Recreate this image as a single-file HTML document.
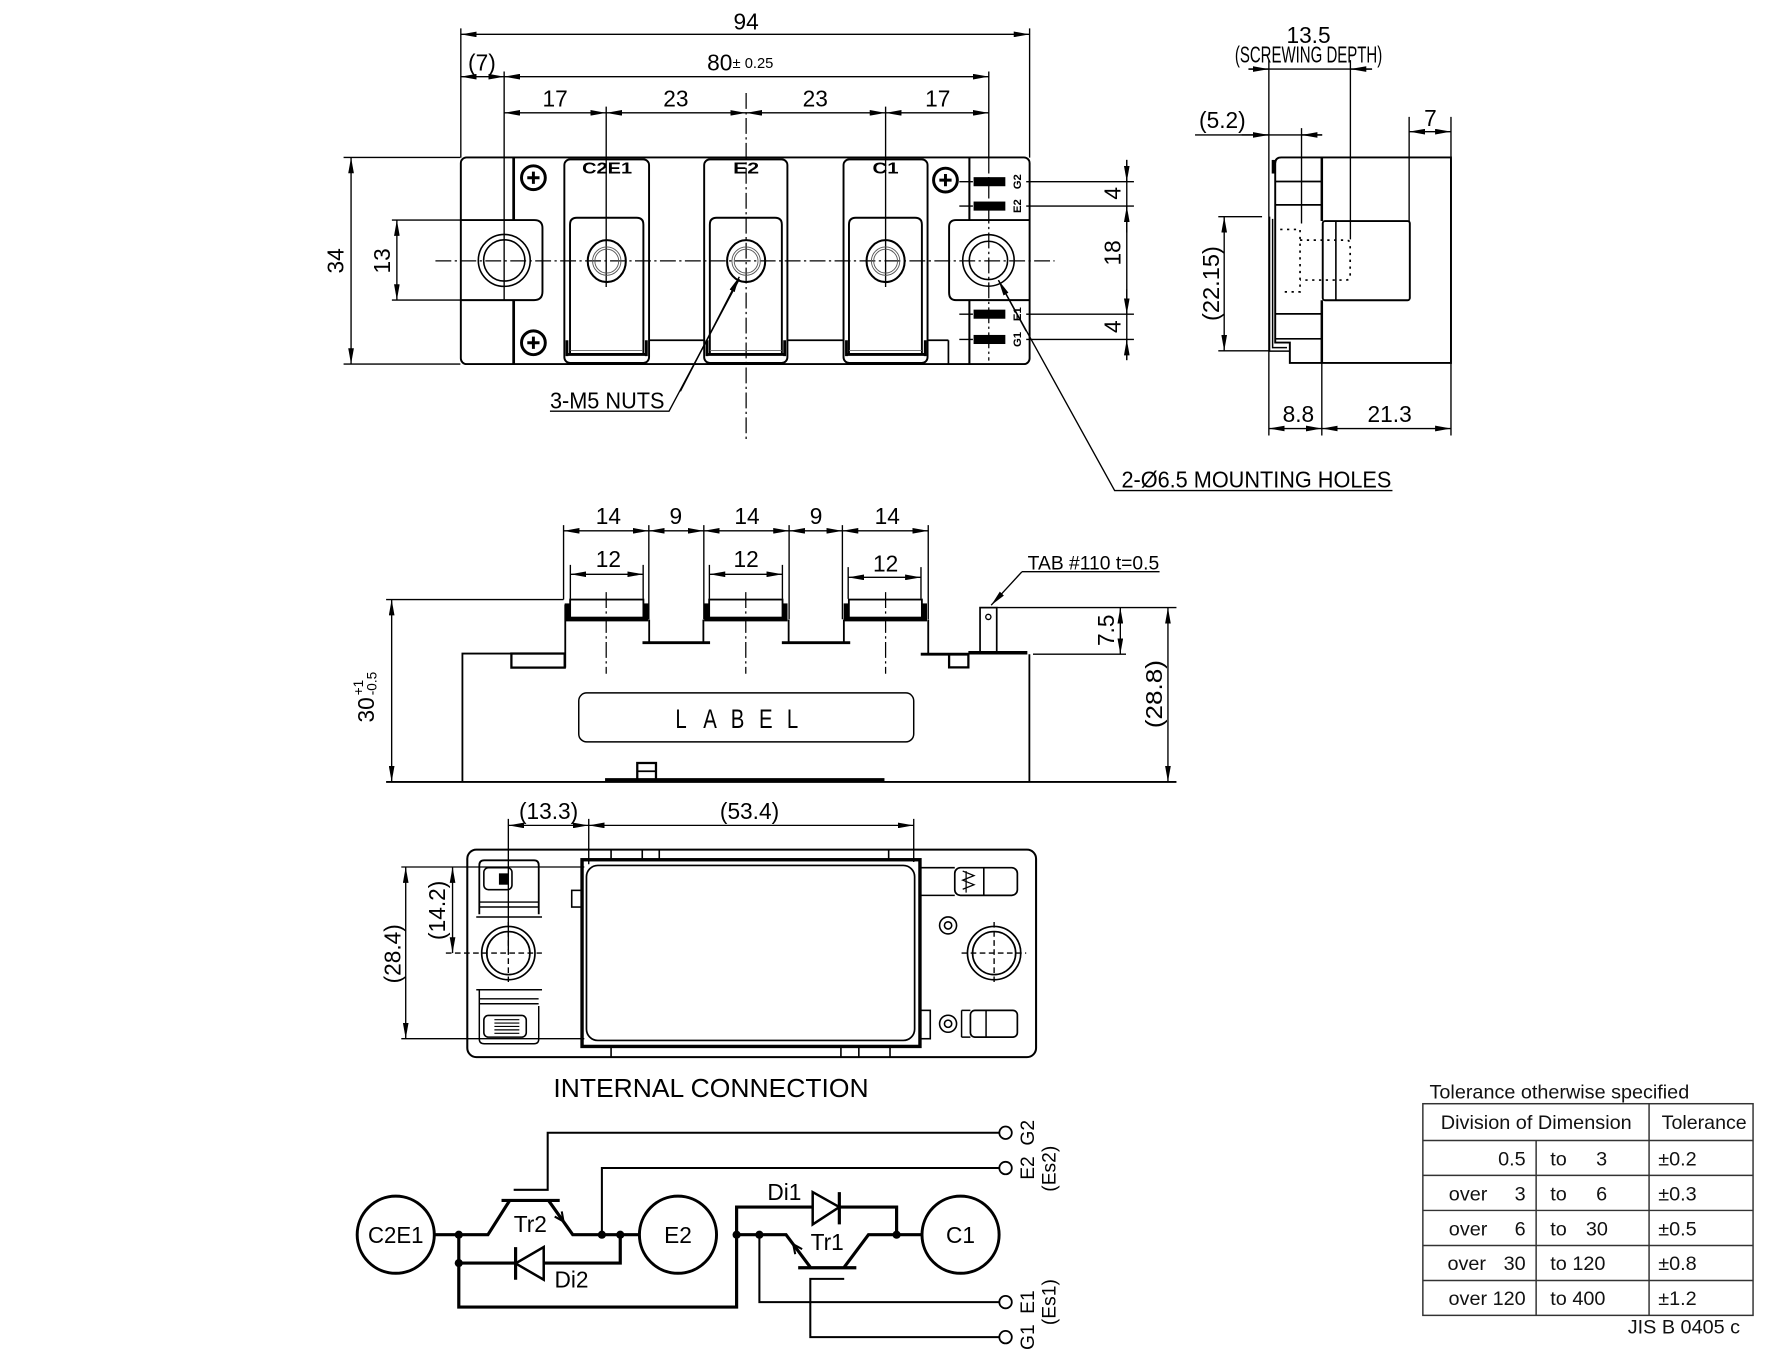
<!DOCTYPE html>
<html><head><meta charset="utf-8"><style>
html,body{margin:0;padding:0;background:#fff;}
svg{display:block;}
.d{font-family:"Liberation Sans",sans-serif;font-size:20px;text-anchor:middle;fill:#000;}
.t{font-family:"Liberation Sans",sans-serif;font-size:17.5px;fill:#111;}
.b{font-family:"Liberation Sans",sans-serif;font-size:14px;font-weight:bold;text-anchor:middle;fill:#000;}
.c{font-family:"Liberation Sans",sans-serif;font-size:20px;text-anchor:middle;fill:#000;}
</style></head><body>
<svg width="1778" height="1352" viewBox="0 0 1568 1192" preserveAspectRatio="none" xmlns="http://www.w3.org/2000/svg">
<defs>
<marker id="a" viewBox="0 0 14 5" refX="14" refY="2.5" markerWidth="14" markerHeight="5" markerUnits="userSpaceOnUse" orient="auto-start-reverse"><path d="M0,0L14,2.5L0,5z" fill="#000"/></marker>
</defs>
<rect width="1568" height="1192" fill="#fff"/>

<!-- ================= TOP VIEW ================= -->
<g fill="none" stroke="#000" stroke-width="1.2">
  <path d="M406.4,25V139 M908,25V139 M444.6,63V265 M534.6,94V253 M781,94V253 M872,63V139 M303,138.8H406 M303,321H406 M345.6,194H406 M345.6,264.6H406"/>
  <path d="M658,82V388 M384,230H930 M872,139V318" stroke-dasharray="14 3 2 3" stroke-width="1.1"/>
  <line x1="406.4" y1="30.3" x2="908" y2="30.3" marker-start="url(#a)" marker-end="url(#a)"/>
  <line x1="406.4" y1="67.6" x2="444.6" y2="67.6" marker-start="url(#a)" marker-end="url(#a)"/>
  <line x1="444.6" y1="67.6" x2="872" y2="67.6" marker-start="url(#a)" marker-end="url(#a)"/>
  <line x1="444.6" y1="99.5" x2="534.6" y2="99.5" marker-start="url(#a)" marker-end="url(#a)"/>
  <line x1="534.6" y1="99.5" x2="658" y2="99.5" marker-start="url(#a)" marker-end="url(#a)"/>
  <line x1="658" y1="99.5" x2="781" y2="99.5" marker-start="url(#a)" marker-end="url(#a)"/>
  <line x1="781" y1="99.5" x2="872" y2="99.5" marker-start="url(#a)" marker-end="url(#a)"/>
  <line x1="309.6" y1="138.8" x2="309.6" y2="321" marker-start="url(#a)" marker-end="url(#a)"/>
  <line x1="350" y1="194" x2="350" y2="264.6" marker-start="url(#a)" marker-end="url(#a)"/>
  <!-- 4/18/4 -->
  <path d="M846,160.2H858 M905,160.2H1000 M846,181.7H858 M905,181.7H1000 M846,277H858 M905,277H1000 M846,299.3H858 M905,299.3H1000"/>
  <line x1="993.7" y1="141" x2="993.7" y2="317.5"/>
  <line x1="993.7" y1="141" x2="993.7" y2="160.2" marker-end="url(#a)"/>
  <line x1="993.7" y1="205" x2="993.7" y2="181.7" marker-end="url(#a)"/>
  <line x1="993.7" y1="255" x2="993.7" y2="277" marker-end="url(#a)"/>
  <line x1="993.7" y1="317.5" x2="993.7" y2="299.3" marker-end="url(#a)"/>
  <!-- leaders -->
  <path d="M485,362.5H590L652,246"/>
  <line x1="600" y1="345" x2="652" y2="244" marker-end="url(#a)"/>
  <path d="M1228,432.5H983L880.5,247"/>
  <line x1="905" y1="292" x2="880.5" y2="247" marker-end="url(#a)"/>
</g>
<!-- body -->
<g fill="none" stroke="#000" stroke-width="1.7">
  <rect x="406.4" y="138.8" width="501.6" height="182.2" rx="5"/>
  <path d="M453,139V194 M453,264.6V321" stroke-width="2.4"/>
  <path d="M406.4,194H471Q478.4,194 478.4,201V257Q478.4,264.6 471,264.6H406.4"/>
  <circle cx="444.7" cy="229.6" r="22.9" stroke-width="1.4"/>
  <circle cx="444.7" cy="229.6" r="18.2" stroke-width="1.4"/>
  <rect x="497.7" y="140.5" width="74.7" height="179.5" rx="5"/>
  <rect x="621" y="140.5" width="73.4" height="179.5" rx="5"/>
  <rect x="743.9" y="140.5" width="74.1" height="179.5" rx="5"/>
  <path d="M502.7,312V198Q502.7,192 508.7,192H561.4Q567.4,192 567.4,198V312"/>
  <path d="M626,312V198Q626,192 632,192H683.5Q689.5,192 689.5,198V312"/>
  <path d="M748.7,312V198Q748.7,192 754.7,192H807Q813,192 813,198V312"/>
  <path d="M501,312.5H569 M624.5,312.5H691 M747,312.5H815" stroke-width="2.6"/>
  <path d="M503,309H567 M626,309H689.5 M748.7,309H813" stroke-width="0.8" stroke="#666"/>
  <path d="M500,300V314 M570,300V314 M623.5,300V314 M692,300V314 M746.5,300V314 M816,300V314" stroke-width="2.5"/>
  <path d="M572.4,300H621 M694.4,300H743.9 M818,300H836.4 M836.4,300V321" stroke-width="1.5"/>
  <path d="M854.9,139V194 M854.9,264.6V321" stroke-width="1.8"/>
  <path d="M908,194H843Q837,194 837,200V258Q837,264.6 843,264.6H908"/>
  <circle cx="871.7" cy="229.6" r="22.7" stroke-width="1.4"/>
  <circle cx="871.7" cy="229.6" r="16.9" stroke-width="1.4"/>
  <g stroke-width="1.8">
    <ellipse cx="535.1" cy="230.2" rx="16.8" ry="18.5"/>
    <ellipse cx="658" cy="230.2" rx="16.8" ry="18.5"/>
    <ellipse cx="781" cy="230.2" rx="16.8" ry="18.5"/>
  </g>
  <g stroke-width="0.8" stroke="#555">
    <circle cx="535.1" cy="230.2" r="12.5"/><circle cx="535.1" cy="230.2" r="10.5"/>
    <circle cx="658" cy="230.2" r="12.5"/><circle cx="658" cy="230.2" r="10.5"/>
    <circle cx="781" cy="230.2" r="12.5"/><circle cx="781" cy="230.2" r="10.5"/>
  </g>
  <g stroke-width="2.6">
    <circle cx="470.4" cy="156.7" r="10.5"/><path d="M465,156.7H475.8M470.4,151.3V162.1"/>
    <circle cx="470.4" cy="302.2" r="10.5"/><path d="M465,302.2H475.8M470.4,296.8V307.6"/>
    <circle cx="833.8" cy="158.8" r="10.5"/><path d="M828.4,158.8H839.2M833.8,153.4V164.2"/>
  </g>
</g>
<g fill="#000">
  <rect x="858.6" y="156.2" width="28" height="8"/>
  <rect x="858.6" y="177.7" width="28" height="8"/>
  <rect x="858.6" y="273" width="28" height="8"/>
  <rect x="858.6" y="295.3" width="28" height="8"/>
</g>
<text class="b" x="535.4" y="153" textLength="44" lengthAdjust="spacingAndGlyphs">C2E1</text>
<text class="b" x="658" y="153" textLength="23" lengthAdjust="spacingAndGlyphs">E2</text>
<text class="b" x="781" y="153" textLength="23" lengthAdjust="spacingAndGlyphs">C1</text>
<g font-family="Liberation Sans,sans-serif" font-size="10" font-weight="bold" text-anchor="middle">
  <text transform="translate(896.6,160.2) rotate(-90)" y="4">G2</text>
  <text transform="translate(896.6,181.7) rotate(-90)" y="4">E2</text>
  <text transform="translate(896.6,277) rotate(-90)" y="4">E1</text>
  <text transform="translate(896.6,299.3) rotate(-90)" y="4">G1</text>
</g>
<text class="d" x="658" y="26">94</text>
<text class="d" x="425" y="62">(7)</text>
<text class="d" x="634.7" y="62">80</text>
<text x="646" y="60" font-family="Liberation Sans,sans-serif" font-size="13">± 0.25</text>
<text class="d" x="489.6" y="94">17</text>
<text class="d" x="596" y="94">23</text>
<text class="d" x="719" y="94">23</text>
<text class="d" x="827" y="94">17</text>
<text class="d" transform="translate(296,230) rotate(-90)" y="7">34</text>
<text class="d" transform="translate(337,230) rotate(-90)" y="7">13</text>
<text class="d" transform="translate(981,170.5) rotate(-90)" y="7">4</text>
<text class="d" transform="translate(981,223) rotate(-90)" y="7">18</text>
<text class="d" transform="translate(981,288) rotate(-90)" y="7">4</text>
<text class="d" x="535.5" y="360" textLength="101" lengthAdjust="spacingAndGlyphs">3-M5 NUTS</text>
<text class="d" x="1108" y="430" textLength="238" lengthAdjust="spacingAndGlyphs">2-Ø6.5 MOUNTING HOLES</text>

<!-- ================= SIDE VIEW ================= -->
<g fill="none" stroke="#000" stroke-width="1.2">
  <path d="M1119,53V384 M1147.8,113V197 M1190.9,53V211 M1242.7,103V195 M1279.6,103V384 M1165.7,320V384 M1074.4,191H1113 M1074.4,309.3H1119"/>
  <path d="M1101,60.9H1210 M1053.9,119H1166"/>
  <line x1="1101" y1="60.9" x2="1119" y2="60.9" marker-end="url(#a)"/>
  <line x1="1210" y1="60.9" x2="1190.9" y2="60.9" marker-end="url(#a)"/>
  <line x1="1095" y1="119" x2="1119" y2="119" marker-end="url(#a)"/>
  <line x1="1166" y1="119" x2="1147.8" y2="119" marker-end="url(#a)"/>
  <line x1="1242.7" y1="116.1" x2="1279.6" y2="116.1" marker-start="url(#a)" marker-end="url(#a)"/>
  <line x1="1079.6" y1="191" x2="1079.6" y2="309.3" marker-start="url(#a)" marker-end="url(#a)"/>
  <line x1="1119" y1="377.8" x2="1165.7" y2="377.8" marker-start="url(#a)" marker-end="url(#a)"/>
  <line x1="1165.7" y1="377.8" x2="1279.6" y2="377.8" marker-start="url(#a)" marker-end="url(#a)"/>
</g>
<g fill="none" stroke="#000" stroke-width="1.7">
  <path d="M1130,138.8H1279.6V320H1137.5V302H1124.6V144Q1124.6,138.8 1130,138.8Z"/>
  <path d="M1119.6,191V309.6H1137.5 M1122.3,193V306.5H1135" stroke-width="1.3"/>
  <path d="M1125,160H1165.7 M1125,180.6H1165.7 M1125,276.7H1165.7 M1125,298.7H1165.7" stroke-width="1.5"/>
  <path d="M1165.7,138.8V194.9 M1165.7,264.7V320" stroke-width="2.2"/>
  <rect x="1166.5" y="194.9" width="76.8" height="69.8" rx="2"/>
  <path d="M1178.1,194.9V264.7" stroke-width="1.4"/>
  <path d="M1129,202.3H1146.5V257.3H1129 M1146.5,211.7H1187Q1190.7,211.7 1190.7,215.5V243Q1190.7,246.9 1187,246.9H1146.5" stroke-dasharray="2 4" stroke-width="1.5"/>
</g>
<rect x="1121.5" y="141" width="3" height="12" fill="#000"/>
<text class="d" x="1154" y="38">13.5</text>
<text class="d" x="1154" y="55" font-size="17" textLength="130" lengthAdjust="spacingAndGlyphs">(SCREWING DEPTH)</text>
<text class="d" x="1078" y="113">(5.2)</text>
<text class="d" x="1261.5" y="111">7</text>
<text class="d" transform="translate(1067.8,250) rotate(-90)" y="7" textLength="66" lengthAdjust="spacingAndGlyphs">(22.15)</text>
<text class="d" x="1145" y="372">8.8</text>
<text class="d" x="1225.5" y="372">21.3</text>

<!-- ================= FRONT VIEW ================= -->
<g fill="none" stroke="#000" stroke-width="1.2">
  <path d="M497,463V528.6 M572.2,463V546 M620.7,463V546 M695.9,463V546 M742.9,463V546 M818.6,463V546"/>
  <path d="M503,498V528 M567.2,498V528 M625.6,498V528 M690,498V528 M748,500V528 M812.2,500V528"/>
  <path d="M340.5,528.6H497 M879,535.7H1037.5 M911,576.8H993"/>
  <line x1="497" y1="468" x2="572.2" y2="468" marker-start="url(#a)" marker-end="url(#a)"/>
  <line x1="572.2" y1="468" x2="620.7" y2="468" marker-start="url(#a)" marker-end="url(#a)"/>
  <line x1="620.7" y1="468" x2="695.9" y2="468" marker-start="url(#a)" marker-end="url(#a)"/>
  <line x1="695.9" y1="468" x2="742.9" y2="468" marker-start="url(#a)" marker-end="url(#a)"/>
  <line x1="742.9" y1="468" x2="818.6" y2="468" marker-start="url(#a)" marker-end="url(#a)"/>
  <line x1="503" y1="506.3" x2="567.2" y2="506.3" marker-start="url(#a)" marker-end="url(#a)"/>
  <line x1="625.6" y1="506.3" x2="690" y2="506.3" marker-start="url(#a)" marker-end="url(#a)"/>
  <line x1="748" y1="509" x2="812.2" y2="509" marker-start="url(#a)" marker-end="url(#a)"/>
  <line x1="345.4" y1="528.6" x2="345.4" y2="689.4" marker-start="url(#a)" marker-end="url(#a)"/>
  <line x1="988" y1="535.7" x2="988" y2="576.8" marker-start="url(#a)" marker-end="url(#a)"/>
  <line x1="1030" y1="535.7" x2="1030" y2="689.4" marker-start="url(#a)" marker-end="url(#a)"/>
  <path d="M1022.6,504H901.3"/>
  <line x1="901.3" y1="504" x2="874.1" y2="533.6" marker-end="url(#a)"/>
  <path d="M534.6,522V594 M657.7,522V594 M781,522V594" stroke-dasharray="14 3 2 3" stroke-width="1.1"/>
</g>
<g fill="none" stroke="#000" stroke-width="1.6">
  <path d="M407.8,689.4V576.2H451 M498.5,588.6V533"/>
  <rect x="451" y="576.2" width="47" height="12.4" stroke-width="2"/>
  <rect x="502.8" y="528.6" width="64.6" height="15.9"/>
  <rect x="625.4" y="528.6" width="64.7" height="15.9"/>
  <rect x="748.6" y="528.6" width="64.4" height="15.9"/>
  <path d="M498,546.3H571.7 M621,546.3H694.5 M744,546.3H817.5" stroke-width="3"/>
  <path d="M572.5,546.3V566.6 M620.3,566.6V546.3 M695.5,546.3V566.6 M744.2,566.6V546.3 M818.6,546.3V576.8"/>
  <path d="M566.6,566.6H626.2 M689.5,566.6H749.8 M812,576.8H854.3" stroke-width="2.5"/>
  <rect x="837" y="576.8" width="17" height="11.6" stroke-width="2"/>
  <path d="M854,575.5H906" stroke-width="3"/>
  <rect x="864.3" y="535.7" width="14.7" height="39.1" stroke-width="1.5"/>
  <circle cx="871.6" cy="543.9" r="2.3" stroke-width="1.2"/>
  <path d="M907.8,576.8V689.4"/>
  <path d="M340.5,689.4H1037.5"/>
  <path d="M533.6,687.5H780" stroke-width="3"/>
  <rect x="562" y="672.7" width="16.5" height="15.5" stroke-width="2"/>
  <path d="M562,680H578.5" stroke-width="1.5"/>
  <rect x="510.4" y="610.9" width="295.4" height="43.2" rx="7" stroke-width="1.3"/>
</g>
<g fill="#000">
  <rect x="498" y="532" width="4.5" height="14"/><rect x="567.4" y="532" width="4.5" height="14"/>
  <rect x="621" y="532" width="4.5" height="14"/><rect x="690" y="532" width="4.5" height="14"/>
  <rect x="744" y="532" width="4.5" height="14"/><rect x="813" y="532" width="4.5" height="14"/>
</g>
<text class="d" x="536.5" y="462">14</text>
<text class="d" x="596" y="462">9</text>
<text class="d" x="658.8" y="462">14</text>
<text class="d" x="719.7" y="462">9</text>
<text class="d" x="782.5" y="462">14</text>
<text class="d" x="536.5" y="500">12</text>
<text class="d" x="658" y="500">12</text>
<text class="d" x="781" y="504">12</text>
<text x="906.3" y="502" font-family="Liberation Sans,sans-serif" font-size="17" textLength="116" lengthAdjust="spacingAndGlyphs">TAB #110 t=0.5</text>
<text class="d" transform="translate(975.6,555.7) rotate(-90)" y="7">7.5</text>
<text class="d" transform="translate(1017.7,612) rotate(-90)" y="7" textLength="60" lengthAdjust="spacingAndGlyphs">(28.8)</text>
<g transform="translate(322,610) rotate(-90)" font-family="Liberation Sans,sans-serif" fill="#000">
  <text x="-27" y="8" font-size="20">30</text>
  <text x="-3" y="-2" font-size="12">+1</text>
  <text x="-3" y="10" font-size="12">-0.5</text>
</g>
<g font-family="Liberation Sans,sans-serif" font-size="24" text-anchor="middle" fill="#000">
  <text x="600.6" y="642" transform="translate(600.6,0) scale(0.75,1) translate(-600.6,0)">L</text>
  <text x="626.2" y="642" transform="translate(626.2,0) scale(0.75,1) translate(-626.2,0)">A</text>
  <text x="650.4" y="642" transform="translate(650.4,0) scale(0.75,1) translate(-650.4,0)">B</text>
  <text x="675.4" y="642" transform="translate(675.4,0) scale(0.75,1) translate(-675.4,0)">E</text>
  <text x="698.9" y="642" transform="translate(698.9,0) scale(0.75,1) translate(-698.9,0)">L</text>
</g>

<!-- ================= BOTTOM VIEW ================= -->
<g fill="none" stroke="#000" stroke-width="1.2">
  <path d="M353.9,764.4H515.3 M353.9,915.8H515.3 M448.3,722V838 M519.2,722V762 M805.8,722V760"/>
  <path d="M393.2,840.3H477.9 M448.3,812.9V865.8 M848,840.3H905 M876.7,812.9V865.8" stroke-dasharray="5 3"/>
  <line x1="357.8" y1="764.4" x2="357.8" y2="915.8" marker-start="url(#a)" marker-end="url(#a)"/>
  <line x1="399.1" y1="764.4" x2="399.1" y2="840.3" marker-start="url(#a)" marker-end="url(#a)"/>
  <line x1="448.3" y1="727.7" x2="519.2" y2="727.7" marker-start="url(#a)" marker-end="url(#a)"/>
  <line x1="519.2" y1="727.7" x2="805.8" y2="727.7" marker-start="url(#a)" marker-end="url(#a)"/>
</g>
<g fill="none" stroke="#000" stroke-width="1.6">
  <rect x="412.1" y="749.1" width="501.6" height="182.9" rx="8" stroke-width="1.8"/>
  <rect x="513.3" y="758" width="298" height="164.6" stroke-width="3"/>
  <rect x="517.2" y="763" width="289.4" height="154.3" rx="10" stroke-width="1.5"/>
  <path d="M538.9,749V758 M566.4,749V758 M581.4,749V758 M783.7,749V758 M538.9,922.6V932 M741.6,922.6V932 M757.4,922.6V932 M784.9,922.6V932" stroke-width="1.4"/>
  <path d="M422.7,806V763Q422.7,758.5 427,758.5H471Q475.1,758.5 475.1,763V806"/>
  <path d="M422.7,795.3H475.1 M422.7,799.7H475.1 M420,808.5H478" stroke-width="1.3"/>
  <rect x="426.7" y="765" width="24.8" height="19.4" rx="4" stroke-width="1.4"/>
  <path d="M420,872.6H478 M422.7,880.6H475 M422.7,885H475 M422.7,872.6V916Q422.7,920.2 427,920.2H471Q475.1,920.2 475.1,916V887" stroke-width="1.3"/>
  <rect x="426.7" y="895.3" width="37.4" height="19.1" rx="4" stroke-width="1.4"/>
  <path d="M436,899H458 M436,902H458 M436,905H458 M436,908H458 M436,911H458" stroke-width="1"/>
  <circle cx="448.3" cy="840.3" r="23.5" stroke-width="1.5"/>
  <circle cx="448.3" cy="840.3" r="19" stroke-width="1.5"/>
  <rect x="504.2" y="785" width="9.1" height="14.7" stroke-width="1.4"/>
  <rect x="842" y="765" width="55.2" height="24.4" rx="5" stroke-width="1.5"/>
  <path d="M867.6,765V789.4 M811.3,765H842 M811.3,789.4H842" stroke-width="1.4"/>
  <path d="M849,768L859,772L849,776L859,780L849,784 M852,768V787" stroke-width="1.1"/>
  <circle cx="836.1" cy="815.9" r="7.5" stroke-width="1.4"/>
  <circle cx="836.1" cy="815.9" r="3.2" stroke-width="1.4"/>
  <circle cx="836.1" cy="902.6" r="7.5" stroke-width="1.4"/>
  <circle cx="836.1" cy="902.6" r="3.2" stroke-width="1.4"/>
  <circle cx="876.7" cy="840.3" r="23.5" stroke-width="1.5"/>
  <circle cx="876.7" cy="840.3" r="19" stroke-width="1.5"/>
  <rect x="855.8" y="890.8" width="41.4" height="23.6" rx="4" stroke-width="1.5"/>
  <path d="M869.6,890.8V914.4 M848,890.8H855.8 M848,914.4H855.8 M848,890.8V914.4" stroke-width="1.3"/>
  <rect x="811.3" y="890.8" width="9.1" height="25" stroke-width="1.4"/>
</g>
<rect x="440" y="770" width="8" height="10" fill="#000"/>
<text class="d" x="483.8" y="722">(13.3)</text>
<text class="d" x="661" y="722">(53.4)</text>
<text class="d" transform="translate(346,840.9) rotate(-90)" y="7">(28.4)</text>
<text class="d" transform="translate(385.4,802.6) rotate(-90)" y="7">(14.2)</text>

<!-- ================= INTERNAL CONNECTION ================= -->
<text x="627" y="967.2" font-family="Liberation Sans,sans-serif" font-size="23" text-anchor="middle" textLength="278" lengthAdjust="spacingAndGlyphs">INTERNAL CONNECTION</text>
<g fill="none" stroke="#000" stroke-linejoin="miter">
  <circle cx="349" cy="1088.6" r="34" stroke-width="2.6"/>
  <circle cx="597.9" cy="1088.6" r="34" stroke-width="2.6"/>
  <circle cx="847.1" cy="1088.6" r="34" stroke-width="2.6"/>
  <g stroke-width="2.8">
    <path d="M383,1088.6H430.3L449.5,1058.4"/>
    <path d="M442.3,1058.4H493.6"/>
    <path d="M483.7,1058.4L505.1,1088.6H564"/>
    <path d="M547,1088.6V1113.6H479.5 M454.7,1113.6H404.6"/>
    <path d="M404.6,1088.6V1152.4H649.6V1064.2H716.7 M740.2,1064.2H790.7V1088.6"/>
    <path d="M649.6,1088.6H693.2L714.6,1117.2"/>
    <path d="M703.9,1117.7H755.2"/>
    <path d="M744.5,1117.2L765.9,1088.6H812.9"/>
    <path d="M454.7,1099.5V1128.3 M740.2,1051V1079.5"/>
  </g>
  <path d="M479.5,1099.5V1128.3L454.7,1113.9Z" fill="#fff" stroke-width="2.2"/>
  <path d="M716.7,1051V1079.5L740.2,1064.2Z" fill="#fff" stroke-width="2.2"/>
  <path d="M495.4,1068.1L497,1077L489.2,1072.6" stroke-width="1.8"/>
  <path d="M701.3,1105.8L699.5,1097L707.4,1101.3" stroke-width="1.8"/>
  <g stroke-width="1.8">
    <path d="M453,1049H483V998.7H881.3"/>
    <path d="M530.8,1088.6V1029.8H881.3"/>
    <path d="M669.7,1088.6V1148H881.3"/>
    <path d="M744.5,1127.5H714.6V1178.9H881.3"/>
  </g>
  <g stroke-width="1.6" fill="#fff">
    <circle cx="886.8" cy="998.7" r="5.5"/>
    <circle cx="886.8" cy="1029.8" r="5.5"/>
    <circle cx="886.8" cy="1148" r="5.5"/>
    <circle cx="886.8" cy="1178.9" r="5.5"/>
  </g>
</g>
<g fill="#000">
  <circle cx="404.6" cy="1088.6" r="3.6"/>
  <circle cx="404.6" cy="1113.6" r="3.6"/>
  <circle cx="530.8" cy="1088.6" r="3.6"/>
  <circle cx="547" cy="1088.6" r="3.6"/>
  <circle cx="649.6" cy="1088.6" r="3.6"/>
  <circle cx="669.7" cy="1088.6" r="3.6"/>
  <circle cx="790.7" cy="1088.6" r="3.6"/>
</g>
<text class="c" x="349" y="1096" textLength="49" lengthAdjust="spacingAndGlyphs">C2E1</text>
<text class="c" x="597.9" y="1096">E2</text>
<text class="c" x="847.1" y="1096">C1</text>
<text class="c" x="467.7" y="1086" font-size="19">Tr2</text>
<text class="c" x="504" y="1135" font-size="19">Di2</text>
<text class="c" x="691.7" y="1058" font-size="19">Di1</text>
<text class="c" x="729.5" y="1102" font-size="19">Tr1</text>
<g font-family="Liberation Sans,sans-serif" font-size="17" text-anchor="middle" fill="#000">
  <text transform="translate(906,998.7) rotate(-90)" y="6">G2</text>
  <text transform="translate(906,1029.8) rotate(-90)" y="6">E2</text>
  <text transform="translate(925,1030.4) rotate(-90)" y="6">(Es2)</text>
  <text transform="translate(906,1148) rotate(-90)" y="6">E1</text>
  <text transform="translate(925,1148) rotate(-90)" y="6">(Es1)</text>
  <text transform="translate(906,1178.9) rotate(-90)" y="6">G1</text>
</g>

<!-- ================= TABLE ================= -->
<g fill="none" stroke="#333" stroke-width="1.3">
  <rect x="1254.8" y="973.1" width="291.2" height="186.6"/>
  <path d="M1354.7,1005.5V1159.7 M1454.3,973.1V1159.7 M1254.8,1005.5H1546 M1254.8,1036.3H1546 M1254.8,1067.2H1546 M1254.8,1098.1H1546 M1254.8,1129H1546"/>
</g>
<text class="t" x="1260.7" y="968.7" textLength="229" lengthAdjust="spacingAndGlyphs">Tolerance otherwise specified</text>
<text class="t" x="1270.6" y="995.2" textLength="168.4" lengthAdjust="spacingAndGlyphs">Division of Dimension</text>
<text class="t" x="1465.4" y="995.2" textLength="75" lengthAdjust="spacingAndGlyphs">Tolerance</text>
<g class="t">
  <text class="t" x="1345.5" y="1027.6" text-anchor="end">0.5</text>
  <text class="t" x="1367.2" y="1027.6">to</text>
  <text class="t" x="1417.3" y="1027.6" text-anchor="end">3</text>
  <text class="t" x="1462.4" y="1027.6">±0.2</text>

  <text class="t" x="1277.7" y="1058.5">over</text>
  <text class="t" x="1345.5" y="1058.5" text-anchor="end">3</text>
  <text class="t" x="1367.2" y="1058.5">to</text>
  <text class="t" x="1417.3" y="1058.5" text-anchor="end">6</text>
  <text class="t" x="1462.4" y="1058.5">±0.3</text>

  <text class="t" x="1277.7" y="1089.4">over</text>
  <text class="t" x="1345.5" y="1089.4" text-anchor="end">6</text>
  <text class="t" x="1367.2" y="1089.4">to</text>
  <text class="t" x="1418" y="1089.4" text-anchor="end">30</text>
  <text class="t" x="1462.4" y="1089.4">±0.5</text>

  <text class="t" x="1276.5" y="1119.7">over</text>
  <text class="t" x="1345.5" y="1119.7" text-anchor="end">30</text>
  <text class="t" x="1367.2" y="1119.7">to 120</text>
  <text class="t" x="1462.4" y="1119.7">±0.8</text>

  <text class="t" x="1345.5" y="1150.6" text-anchor="end">over 120</text>
  <text class="t" x="1367.2" y="1150.6">to 400</text>
  <text class="t" x="1462.4" y="1150.6">±1.2</text>
</g>
<text class="t" x="1435.5" y="1175.9" textLength="99" lengthAdjust="spacingAndGlyphs">JIS B 0405 c</text>
</svg>
</body></html>
